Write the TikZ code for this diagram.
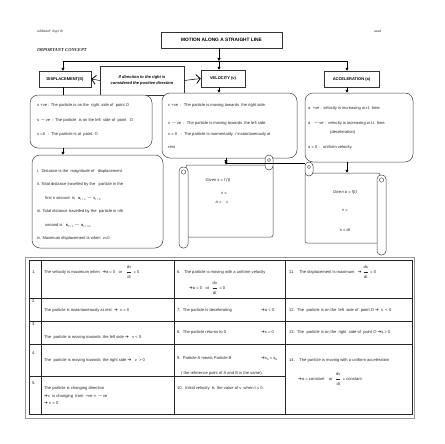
\documentclass[tikz,border=0pt]{standalone}
\usepackage{fontspec}
\setmainfont{Liberation Sans}
\newfontfamily\seriff{Liberation Serif}
\newfontfamily\dvf{DejaVu Sans}
\usetikzlibrary{arrows.meta,calc}
\newcommand\myar{{\dvf\fontsize{4.5}{5}\selectfont ➔}}
\newcommand\myfr[2]{$\displaystyle\frac{\hbox{#1}}{\hbox{#2}}$}
\newcommand\mysub[1]{\raisebox{-0.7pt}{\fontsize{2.6}{3}\selectfont #1}}
\begin{document}
\begin{tikzpicture}[x=1pt,y=-1pt,
  box/.style={draw=black!80, line width=0.5pt, inner sep=0, fill=white, font=\fontsize{4}{5}\selectfont\bfseries},
  rbox/.style={draw=black!75, line width=0.5pt, inner sep=0, fill=white, rounded corners=8pt},
  t/.style={anchor=base west, inner sep=0, font=\fontsize{4.1}{5}\selectfont, text=black!85},
  tc/.style={anchor=base, inner sep=0, font=\fontsize{4.1}{5}\selectfont, text=black!85},
  arr/.style={-{Triangle[length=3pt,width=3pt]}, line width=0.5pt},
  chev/.style={-{Straight Barb[length=4pt,width=9pt,line width=0.8pt]}, line width=0.5pt},
  tl/.style={line width=0.8pt, draw=black!85}]
\useasboundingbox (0,0) rectangle (444,444);
% header texts
\node[t, font=\fontsize{3.8}{4}\selectfont\seriff\itshape] (hdr) at (37,32.5) {addmath\ \ dxpi th};
\node[t, font=\fontsize{3.8}{4}\selectfont\seriff\itshape] (azad) at (374,32.5) {azad};
\node[t, font=\fontsize{4.6}{5}\selectfont\seriff\bfseries\itshape] (imp) at (37,51.5) {IMPORTANT CONCEPT};
% top boxes
\node[box, minimum width=121, minimum height=16, font=\fontsize{4.8}{5}\selectfont\bfseries] (title) at (221.5,40) {MOTION ALONG A STRAIGHT LINE};
\node[box, minimum width=52, minimum height=16] (disp) at (65,79) {DISPLACEMENT(S)};
\node[box, minimum width=84, minimum height=29, align=center, font=\fontsize{4}{5.5}\selectfont\bfseries\itshape] (cond) at (142,80.5) {If direction to the right is\\considered the positive direction};
\node[box, minimum width=44, minimum height=17] (vel) at (223,78.5) {VELOCITY (v)};
\node[box, minimum width=55, minimum height=16] (acc) at (351.5,79) {ACCELERATION (a)};
% rounded boxes
\node[rbox, minimum width=122, minimum height=53] (dbox1) at (91,121.5) {};
\node[rbox, minimum width=131, minimum height=93] (dbox2) at (97.5,201.5) {};
\node[rbox, minimum width=135, minimum height=65] (vbox) at (229.5,125.5) {};
\node[rbox, minimum width=108, minimum height=69] (abox) at (359,127.5) {};
% connectors
\coordinate (j) at (219,61);
\coordinate (jl) at (63,61);
\coordinate (jr) at (347,61);
\draw[arr] (title.south -| j) -- (j);
\draw[line width=0.5pt] (jl) -- (jr);
\draw[arr] (jl) -- (jl |- disp.north);
\draw[arr] (j) -- (j |- vel.north);
\draw[arr] (jr) -- (jr |- acc.north);
\draw[line width=0.5pt] (disp.south -| jl) -- (jl |- dbox1.north);
\draw[arr] (vel.south -| j) -- (j |- vbox.north);
\draw[arr] (acc.south -| jr) -- (jr |- abox.north);
\draw[arr] (dbox1.south -| jl) -- (jl |- dbox2.north);
\draw[chev] (cond.west) -- (disp.east);
\draw[chev] (cond.east) -- (vel.west);
% displacement texts
\node[t] (d1) at (37,106.5) {s +ve : The particle is on the\ \ right\ \ side of\ \ point O};
\node[t] (d2) at (37,121.5) {s $-$ve\ \ : The particle\ \ is on the left\ \ side of\ \ point\ \ \ O};
\node[t] (d3) at (37,135.5) {s =0\ \ \ : The particle is at\ \ point\ \ O};
\node[t] (e1) at (37,172.5) {i.\ \ Distance is the\ \ magnitude of\ \ \ displacement.};
\node[t] (e2) at (37,185.5) {ii.\ Total distance travelled by the\ \ \ particle in the};
\node[t] (e3) at (45,199.5) {first n second\ \ is\ \ \ {\bfseries s}\mysub{t = n} $-$ s\mysub{t = 0}};
\node[t] (e4) at (37,212.5) {iii. Total distance travelled by the\ \ particle in nth};
\node[t] (e5) at (45,226.5) {second is\ \ \ {\bfseries s}\mysub{t = n} $-$ {\bfseries s}\mysub{t = n-1}};
\node[t] (e6) at (37,239.5) {iv. Maximum displacement is when\ \ v=0};
% velocity texts
\node[t] (v1) at (168,106.5) {v\ +ve\ \ :\ \ The particle is moving towards\ \ the right side.};
\node[t] (v2) at (168,124.5) {v $-$ve\ \ :\ \ The particle is moving towards\ \ the left side.};
\node[t] (v3) at (168,135.5) {v = 0\ \ \ :\ \ The particle is momentarily\ \ / instantaneously at};
\node[t] (v4) at (168,148.5) {rest};
% acceleration texts
\node[t] (a1) at (308,109.5) {a\ \ +ve : velocity is increasing w.r.t. time.};
\node[t] (a2) at (308,124.5) {a\ \ \ $-$ve :\ \ velocity is increasing w.r.t. time.};
\node[t] (a3) at (330,133.5) {(deceleration)};
\node[t] (a4) at (308,148.5) {a = 0 :\ \ \ uniform velocity.};
% velocity scroll
\node[draw=black!75, line width=0.5pt, fill=white, minimum width=87, minimum height=72, inner sep=0, rounded corners=2pt] (vs) at (229.5,201) {};
\draw[line width=0.5pt, draw=black!75, fill=white, rounded corners=4pt] (265,155) rectangle (273,170);
\draw[line width=0.4pt, draw=black!75] (269,160) circle (1.6);
\draw[line width=0.5pt, draw=black!75, fill=white, rounded corners=4pt] (179,167) rectangle (188,248);
\draw[line width=0.4pt, draw=black!75] (183.5,172) circle (2.2);
\coordinate (vj) at (226,163);
\coordinate (acurl) at (305,163);
\draw[arr] (vbox.south -| vj) -- (vj);
\draw[arr] (vj) -- (vj |- vs.north);
\draw[line width=0.5pt] (vj) -- (acurl);
\node[tc, font=\fontsize{4.1}{5}\selectfont\itshape] (g1) at (218,181.5) {Given s = f (t)};
\node[tc, font=\fontsize{4.1}{5}\selectfont\itshape] (g2) at (224,194.5) {v =};
\node[tc, font=\fontsize{4.1}{5}\selectfont\itshape] (g3) at (222,203.5) {a =\ \ \ \ =};
% acceleration scroll
\node[draw=black!75, line width=0.5pt, fill=white, minimum width=75, minimum height=70, inner sep=0, rounded corners=2pt] (as) at (342.5,208) {};
\draw[line width=0.5pt, draw=black!75, fill=white, rounded corners=4pt] (305,162) rectangle (313,176);
\draw[line width=0.4pt, draw=black!75] (309,167) circle (1.6);
\draw[line width=0.5pt, draw=black!75, fill=white, rounded corners=4pt] (377,175) rectangle (386,255);
\draw[line width=0.4pt, draw=black!75] (381.5,180) circle (2.2);
\draw[arr] (abox.south -| jr) -- (jr |- as.north);
\node[tc, font=\fontsize{4.1}{5}\selectfont\itshape] (h1) at (345,193.5) {Given a = f(t)};
\node[tc] (h2) at (345,211.5) {v =};
\node[tc] (h3) at (345,231.5) {s = dt};
% table
\draw[draw=black!40, line width=0.6pt] (25,257) rectangle (414,418);
\draw[tl, fill=white] (29,260) rectangle (412,414);
\draw[tl] (41,260) -- (41,414);
\draw[tl] (174,260) -- (174,414);
\draw[tl] (285,260) -- (285,414);
\draw[tl] (29,298) -- (412,298);
\draw[tl] (29,321) -- (412,321);
\draw[tl] (29,344) -- (412,344);
\draw[tl] (29,376) -- (285,376);
% table texts
\node[t] (n1) at (32,273.5) {1.};
\node[t] (c1) at (44,273.5) {The velocity is maximum when\ \ \myar a = 0\ \ \ or\ \ \ \myfr{dv}{dt} = 0};
\node[t] (n2) at (32,302.5) {2.};
\node[t] (c2) at (44,311.5) {The particle is instantaneously at rest\ \ \myar\ \ v = 0};
\node[t] (n3) at (32,325.5) {3.};
\node[t] (c3) at (44,338.5) {The\ \ particle is moving towards\ \ the left side \myar\ \ \ v < 0};
\node[t] (n4) at (32,354.5) {4.};
\node[t] (c4) at (44,361.5) {The\ \ particle is moving towards\ \ the right side \myar\ \ \ v\ \ > 0};
\node[t] (n5) at (32,384.5) {5.};
\node[t] (c5a) at (44,389.5) {The particle is changing direction};
\node[t] (c5b) at (44,397.5) {\myar v\ \ is changing\ \ from\ \ +ve {\dvf\fontsize{3.5}{4}\selectfont ↔} $-$ve};
\node[t] (c5c) at (44,404.5) {\myar\ v = 0};
\node[t] (c6a) at (177,273.5) {6.\ \ \ The particle is moving with a uniform velocity};
\node[t] (c6b) at (189,289.5) {\myar a = 0\ \ \ or\ \ \myfr{dv}{dt} = 0};
\node[t] (c7) at (177,311.5) {7.\ \ The particle is decelerating};
\node[t] (c7b) at (261,311.5) {\myar a < 0};
\node[t] (c8) at (177,333.5) {8.\ \ The particle returns to 0};
\node[t] (c8b) at (261,333.5) {\myar s = 0};
\node[t] (c9) at (177,359.5) {9.\ \ Particle A meets Particle B};
\node[t] (c9b) at (261,359.5) {\myar s\mysub{A} = s\mysub{B}};
\node[t] (c9c) at (181,374.5) {( the reference point of A and B is the same).};
\node[t] (c10) at (177,389.5) {10.\ \ Initial velocity\ \ is\ \ the value of v\ \ when t = 0.};
\node[t] (c11) at (289,273.5) {11.\ \ \ \ The displacement is maximum\ \ \ \myar\,\myfr{ds}{dt}\ = 0};
\node[t] (c12) at (289,311.5) {12.\ \ The\ \ particle is on the\ \ left\ \ side of\ \ point O \myar\ \ s\ \ < 0};
\node[t] (c13) at (289,333.5) {13.\ \ The\ \ particle is on the\ \ right\ \ side of\ \ point O \myar s > 0};
\node[t] (c14a) at (289,361.5) {14.\ \ \ \ The particle is moving with a uniform acceleration};
\node[t] (c14b) at (298,380.5) {\myar a = constant\ \ \ \ or\ \ \myfr{dv}{dt} = constant};
\end{tikzpicture}
\end{document}
